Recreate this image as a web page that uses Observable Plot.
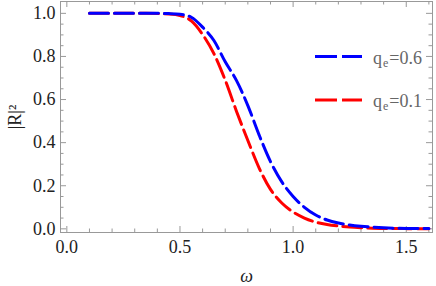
<!DOCTYPE html>
<html><head><meta charset="utf-8">
<script src="https://cdn.jsdelivr.net/npm/d3@7"></script>
<script src="https://cdn.jsdelivr.net/npm/@observablehq/plot@0.6"></script>
<style>body{margin:0;background:#fff} svg{display:block} svg text{font-family:"Liberation Serif",serif !important}</style>
</head><body><div id="chart"></div>
<script>
// data
const omega = [0.10,0.15,0.20,0.25,0.30,0.35,0.40,0.45,0.50,0.55,0.60,0.65,0.70,0.75,0.80,0.85,0.90,0.95,1.00,1.05,1.10,1.15,1.20,1.25,1.30,1.35,1.40,1.45,1.50,1.55,1.60];
const rBlue = [1,1,1,1,1,1,1,0.999,0.996,0.982,0.936,0.874,0.775,0.688,0.572,0.435,0.312,0.218,0.150,0.100,0.064,0.041,0.027,0.018,0.012,0.008,0.005,0.003,0.002,0.0015,0.001];
const rRed  = [1,1,1,1,1,1,0.999,0.997,0.990,0.965,0.902,0.813,0.690,0.545,0.410,0.282,0.183,0.120,0.078,0.050,0.031,0.020,0.013,0.008,0.005,0.003,0.002,0.0015,0.001,0.0007,0.0005];
const seriesLabels = ["0.6","0.1"];
const seriesColors = ["#0000ff","#ff0000"];
const xMajorTicks = [0,0.5,1.0,1.5];
const xMinorTicks = [0.1,0.2,0.3,0.4,0.6,0.7,0.8,0.9,1.1,1.2,1.3,1.4,1.6];
const yMajorTicks = [0,0.2,0.4,0.6,0.8,1.0];
const yMinorTicks = [0.05,0.1,0.15,0.25,0.3,0.35,0.45,0.5,0.55,0.65,0.7,0.75,0.85,0.9,0.95];
const xLabel = "ω";
const yLabel = "|R|²";

const blueData = omega.map((w,i)=>({w, r:rBlue[i]}));
const redData = omega.map((w,i)=>({w, r:rRed[i]}));

const W=436, H=286, mL=60, mR=4, mT=1, mB=54;
const pW = W-mL-mR, pH = H-mT-mB;
const frameColor = "#999";
const major = 6, minor = 3.5;
const dash = "19,6";
const FONT = "Liberation Serif";

const plot = Plot.plot({
  width: W, height: H,
  marginLeft: mL, marginRight: mR, marginTop: mT, marginBottom: mB,
  style: {fontFamily: FONT, fontSize: "18px", color: "#222", background: "#fff"},
  x: {domain: [-0.028, 1.616]},
  y: {domain: [-0.017, 1.055]},
  marks: [
    Plot.frame({stroke: frameColor}),
    Plot.tickX(xMajorTicks, {x: d=>d, stroke: frameColor, insetTop: pH-major}),
    Plot.tickX(xMinorTicks, {x: d=>d, stroke: frameColor, insetTop: pH-minor}),
    Plot.tickX(xMajorTicks, {x: d=>d, stroke: frameColor, insetBottom: pH-major}),
    Plot.tickX(xMinorTicks, {x: d=>d, stroke: frameColor, insetBottom: pH-minor}),
    Plot.tickY(yMajorTicks, {y: d=>d, stroke: frameColor, insetRight: pW-major}),
    Plot.tickY(yMinorTicks, {y: d=>d, stroke: frameColor, insetRight: pW-minor}),
    Plot.tickY(yMajorTicks, {y: d=>d, stroke: frameColor, insetLeft: pW-major}),
    Plot.tickY(yMinorTicks, {y: d=>d, stroke: frameColor, insetLeft: pW-minor}),
    Plot.line(redData, {x:"w", y:"r", stroke: seriesColors[1], strokeWidth: 3, strokeDasharray: dash, curve: "monotone-x"}),
    Plot.line(blueData, {x:"w", y:"r", stroke: seriesColors[0], strokeWidth: 3, strokeDasharray: dash, curve: "monotone-x"}),
    Plot.axisX({ticks: xMajorTicks, tickSize: 0, tickPadding: 8, tickFormat: d3.format(".1f"), label: null}),
    Plot.axisY({ticks: yMajorTicks, tickSize: 0, tickPadding: 5, tickFormat: d3.format(".1f"), label: null}),
    Plot.text([xLabel], {text: d=>d, frameAnchor: "middle", dy: 159, fontStyle: "italic", fill: "#222"}),
    Plot.text([yLabel], {text: d=>d, frameAnchor: "middle", dx: -231, rotate: -90, fill: "#222"})
  ]
});
document.getElementById("chart").appendChild(plot);

// legend
const svg = d3.select(plot);
const lg = svg.append("g").style("font-size","18px").attr("text-anchor","start");
const legendY = [56.5, 100];
const textY = [63.5, 107];
seriesLabels.forEach((lab,i)=>{
  lg.append("line").attr("x1",315).attr("x2",362).attr("y1",legendY[i]).attr("y2",legendY[i])
    .attr("stroke",seriesColors[i]).attr("stroke-width",3).attr("stroke-dasharray","22,5,20");
  const t = lg.append("text").attr("x",373).attr("y",textY[i]).attr("fill","#666").attr("text-anchor","start");
  t.append("tspan").text("q");
  t.append("tspan").style("font-size","12px").attr("dy",3).attr("dx",1).text("e");
  t.append("tspan").attr("dy",-3).attr("dx",1).text("=" + lab);
});
</script>
</body></html>
